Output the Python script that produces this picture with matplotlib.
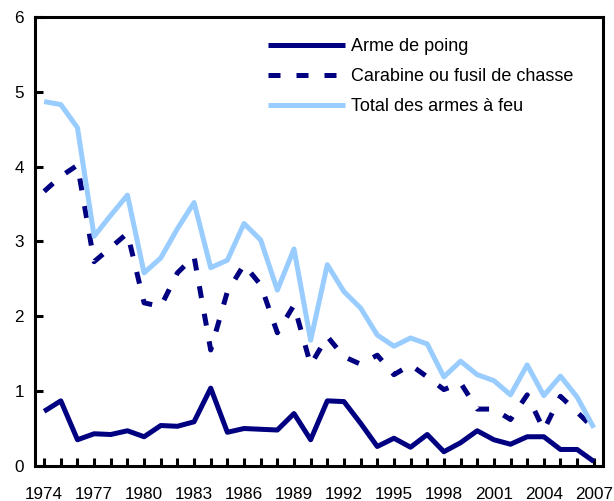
import matplotlib.pyplot as plt
import numpy as np

plt.rcParams['font.family'] = ['Liberation Sans', 'DejaVu Sans']

years = np.arange(1974, 2008)

# Taux par 100 000 habitants
arme_poing = [0.73, 0.87, 0.35, 0.43, 0.42, 0.47, 0.39, 0.54, 0.53, 0.59,
              1.04, 0.45, 0.50, 0.49, 0.48, 0.70, 0.35, 0.87, 0.86, 0.57,
              0.26, 0.37, 0.25, 0.42, 0.19, 0.31, 0.47, 0.35, 0.29, 0.39,
              0.39, 0.22, 0.22, 0.06]
carabine = [3.67, 3.87, 4.02, 2.73, 2.92, 3.11, 2.18, 2.13, 2.58, 2.80,
            1.55, 2.33, 2.69, 2.42, 1.78, 2.15, 1.35, 1.73, 1.46, 1.36,
            1.48, 1.22, 1.35, 1.19, 1.02, 1.11, 0.76, 0.76, 0.62, 0.95,
            0.48, 0.93, 0.72, 0.50]
total = [4.87, 4.83, 4.52, 3.07, 3.35, 3.62, 2.58, 2.78, 3.17, 3.52,
         2.65, 2.75, 3.24, 3.02, 2.35, 2.90, 1.68, 2.69, 2.33, 2.11,
         1.75, 1.60, 1.71, 1.63, 1.19, 1.40, 1.22, 1.14, 0.95, 1.35,
         0.94, 1.20, 0.92, 0.51]

navy = '#000080'
clair = '#99ccff'

fig = plt.figure(figsize=(6.14, 5.01), dpi=100)
ax = fig.add_axes([0.057, 0.070, 0.925, 0.896])

ax.plot(years, arme_poing, color=navy, lw=3.6, solid_capstyle='butt',
        label='Arme de poing')
ax.plot(years, carabine, color=navy, lw=3.6, dashes=(2.4, 3.2),
        dash_capstyle='butt', label='Carabine ou fusil de chasse')
ax.plot(years, total, color=clair, lw=3.6, solid_capstyle='butt',
        label='Total des armes à feu')

ax.set_xlim(1973.45, 2007.55)
ax.set_ylim(0, 6)
ax.set_xticks(np.arange(1974, 2008, 3))
ax.set_xticks(years, minor=True)
ax.set_yticks(range(0, 7))

for s in ax.spines.values():
    s.set_linewidth(2.2)

ax.tick_params(which='both', direction='in', length=6, width=2.2,
               labelsize=12.3, color='black')
ax.tick_params(axis='x', which='both', top=False, pad=15)
ax.tick_params(axis='y', right=False, pad=8)

ax.legend(loc='upper left', bbox_to_anchor=(0.41, 0.953), frameon=False,
          fontsize=13, handlelength=4.3, handletextpad=0.28,
          labelspacing=0.72, borderpad=0, borderaxespad=0)

fig.savefig('out.png', dpi=100)
